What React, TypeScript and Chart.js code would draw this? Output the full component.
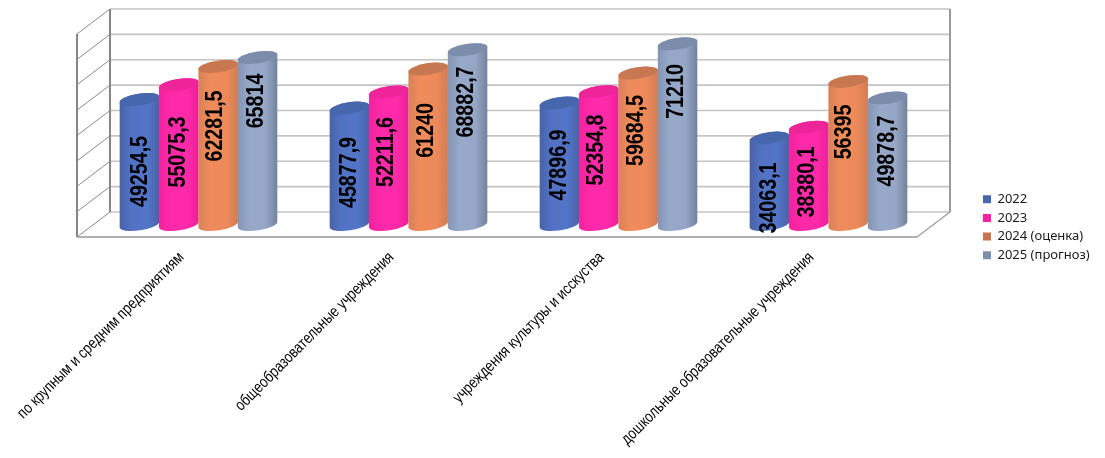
import React, { useEffect, useRef } from "react";
import { Chart, registerables, BarController } from "chart.js";

const categories = [
  "по крупным и средним предприятиям",
  "общеобразовательные учреждения",
  "учреждения культуры и исскуства",
  "дошкольные образовательные учреждения",
];
const seriesNames = ["2022", "2023", "2024 (оценка)", "2025 (прогноз)"];
const values2022 = [49254.5, 45877.9, 47896.9, 34063.1];
const values2023 = [55075.3, 52211.6, 52354.8, 38380.1];
const values2024 = [62281.5, 61240, 59684.5, 56395];
const values2025 = [65814, 68882.7, 71210, 49878.7];
const seriesValues = [values2022, values2023, values2024, values2025];
const valueText = [
  ["49254,5", "45877,9", "47896,9", "34063,1"],
  ["55075,3", "52211,6", "52354,8", "38380,1"],
  ["62281,5", "61240", "59684,5", "56395"],
  ["65814", "68882,7", "71210", "49878,7"],
];

// Style tables, kept apart from the data
const legendColors = ["#4a66ac", "#ff1fa5", "#c7754e", "#7f90ae"];
const capColors = ["#4767ad", "#ee2598", "#c87850", "#7b8dab"];
const bodyStops = [
  ["#4662a8", "#5272c4", "#5375c8", "#4862a6"],
  ["#f4209c", "#ff2aaa", "#ff2aaa", "#ea2096"],
  ["#d68158", "#f08c5c", "#ee8a5a", "#cf7d55"],
  ["#8495b4", "#97a9c8", "#95a6c6", "#72819d"],
];
// Hand-placed label centres in the reference
const labelCenterY = [
  [171.5, 172.5, 165, 198],
  [152, 152, 150, 182],
  [126, 130.5, 130.5, 132],
  [101, 102, 91.5, 151],
];
const labelCenterX = [
  [139, 348, 558, 768],
  [177, 385, 595, 806],
  [214, 425, 635, 843],
  [255, 465, 675, 886],
];

const AREA = { left: 93.5, right: 933.5, top: 21.5, bottom: 224.5 };
const DEPTH_X = 16.5;
const DEPTH_Y = 12.5;
const TILT = -0.15;
const CAP_RY = 5.8;

class CylinderController extends BarController {
  static id = "cylinder";
  static defaults = BarController.defaults;
  static overrides = BarController.overrides;
  draw() {
    if (this.index !== 0) return;
    const chart = this.chart;
    const ctx = chart.ctx;
    chart.data.datasets.forEach((_: any, di: number) => {
      chart.getDatasetMeta(di).data.forEach((el: any) => {
        const { x, y, base, width } = el.getProps(["x", "y", "base", "width"], true);
        const rx = width / 2 + 0.3;
        const g = ctx.createLinearGradient(x - rx, 0, x + rx, 0);
        const s = bodyStops[di];
        g.addColorStop(0, s[0]);
        g.addColorStop(0.3, s[1]);
        g.addColorStop(0.7, s[2]);
        g.addColorStop(1, s[3]);
        ctx.save();
        ctx.fillStyle = g;
        ctx.beginPath();
        ctx.ellipse(x, base, rx, CAP_RY, TILT, 0, Math.PI, false);
        ctx.ellipse(x, y, rx, CAP_RY, TILT, Math.PI, 0, false);
        ctx.closePath();
        ctx.fill();
        ctx.fillStyle = capColors[di];
        ctx.beginPath();
        ctx.ellipse(x, y, rx, CAP_RY, TILT, 0, Math.PI * 2);
        ctx.fill();
        ctx.restore();
      });
    });
  }
}
Chart.register(...registerables, CylinderController);

const line = (ctx: any, x1: number, y1: number, x2: number, y2: number, color: string, w: number) => {
  ctx.strokeStyle = color;
  ctx.lineWidth = w;
  ctx.beginPath();
  ctx.moveTo(x1, y1);
  ctx.lineTo(x2, y2);
  ctx.stroke();
};

const scene = {
  id: "scene",
  afterLayout(chart: any) {
    const { x, y } = chart.scales;
    Object.assign(chart.chartArea, AREA, {
      width: AREA.right - AREA.left,
      height: AREA.bottom - AREA.top,
    });
    x.left = AREA.left;
    x.right = AREA.right;
    x.width = AREA.right - AREA.left;
    x.configure();
    y.top = AREA.top;
    y.bottom = AREA.bottom;
    y.height = AREA.bottom - AREA.top;
    y.configure();
    const lg = chart.legend;
    const w = lg.width;
    const h = lg.height;
    lg.left = 983 - lg.options.labels.padding;
    lg.right = lg.left + w;
    lg.top = 187;
    lg.bottom = lg.top + h;
  },
  beforeDatasetsDraw(chart: any) {
    const { ctx } = chart;
    const { x, y } = chart.scales;
    const l = x.left;
    const r = x.right;
    ctx.save();
    y.ticks.forEach((t: any) => {
      const py = y.getPixelForValue(t.value);
      line(ctx, l + DEPTH_X, py - DEPTH_Y, r + DEPTH_X, py - DEPTH_Y, "#c4c4c4", 1.6);
      line(ctx, l - DEPTH_X, py + DEPTH_Y, l + DEPTH_X, py - DEPTH_Y, "#8a8a8a", 1);
    });
    const top = y.getPixelForValue(y.max);
    const bot = y.getPixelForValue(y.min);
    line(ctx, l - DEPTH_X, bot + DEPTH_Y, r - DEPTH_X, bot + DEPTH_Y, "#b0b0b0", 2);
    line(ctx, r - DEPTH_X, bot + DEPTH_Y, r + DEPTH_X, bot - DEPTH_Y, "#9a9a9a", 1.2);
    line(ctx, l - DEPTH_X, top + DEPTH_Y, l - DEPTH_X, bot + DEPTH_Y, "#868686", 2);
    line(ctx, l + DEPTH_X, top - DEPTH_Y, l + DEPTH_X, bot - DEPTH_Y, "#868686", 2);
    line(ctx, r + DEPTH_X, top - DEPTH_Y, r + DEPTH_X, bot - DEPTH_Y, "#999999", 2);
    ctx.restore();
  },
  afterDatasetsDraw(chart: any) {
    const { ctx } = chart;
    const { x } = chart.scales;
    ctx.save();
    ctx.fillStyle = "#000";
    ctx.textAlign = "center";
    ctx.textBaseline = "middle";
    ctx.font = "bold 24px 'Liberation Sans'";
    valueText.forEach((row, di) => {
      row.forEach((text, ci) => {
        ctx.save();
        ctx.translate(labelCenterX[di][ci], labelCenterY[di][ci]);
        ctx.rotate(-Math.PI / 2);
        ctx.scale(0.82, 1);
        ctx.fillText(text, 0, 1);
        ctx.restore();
      });
    });
    ctx.font = "16px 'Liberation Sans'";
    ctx.textAlign = "right";
    categories.forEach((label, ci) => {
      ctx.save();
      ctx.translate(x.getPixelForValue(ci) - 17, 255);
      ctx.rotate(-Math.PI / 4);
      ctx.scale(0.82, 1);
      ctx.fillText(label, 0, 0);
      ctx.restore();
    });
    ctx.restore();
  },
};

export default function App() {
  const ref = useRef<HTMLCanvasElement>(null);
  useEffect(() => {
    const chart = new Chart(ref.current as any, {
      type: "cylinder" as any,
      data: {
        labels: categories,
        datasets: seriesNames.map((name, i) => ({
          label: name,
          data: seriesValues[i],
          backgroundColor: legendColors[i],
          clip: false,
        })) as any,
      },
      options: {
        responsive: false,
        animation: false,
        devicePixelRatio: 1,
        events: [],
        scales: {
          x: { display: false, offset: true },
          y: { display: false, min: 0, max: 80000, ticks: { stepSize: 10000 } },
        },
        datasets: {
          cylinder: { barPercentage: 1, categoryPercentage: 0.75 },
        } as any,
        plugins: {
          title: { display: false },
          tooltip: { enabled: false },
          legend: {
            display: true,
            position: "right",
            align: "start",
            labels: {
              boxWidth: 8,
              boxHeight: 8,
              padding: 5.7,
              color: "#1a1a1a",
              font: { family: "'Noto Sans'", size: 13 },
            },
          },
        },
      },
      plugins: [scene],
    });
    return () => chart.destroy();
  }, []);
  return (
    <canvas
      ref={ref}
      width={1105}
      height={458}
      style={{ position: "absolute", left: 0, top: 0, display: "block" }}
    />
  );
}
